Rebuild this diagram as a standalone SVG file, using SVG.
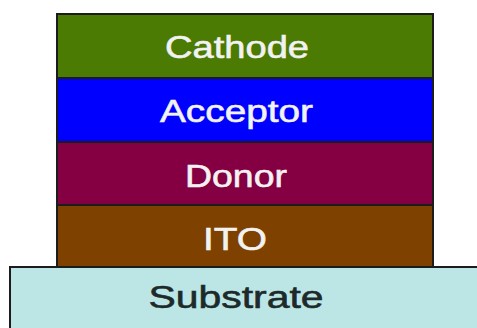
<svg xmlns="http://www.w3.org/2000/svg" width="477" height="328" viewBox="0 0 477 328">
<style>
.layer{stroke:#1c1c1c;stroke-width:2}
.lbl{font-family:"Liberation Sans",Arial,sans-serif;font-size:32px;fill:#f2f2f2;stroke:#f2f2f2;stroke-width:0.6;text-anchor:middle}
.dark{fill:#1c2a2a;stroke:#1c2a2a}
</style>
<rect width="477" height="328" fill="#ffffff"/>
<g id="substrate">
<rect class="layer" x="10" y="267" width="480" height="70" fill="#bce5e6"/>
<text class="lbl dark" x="236" y="308" textLength="175" lengthAdjust="spacingAndGlyphs">Substrate</text>
</g>
<g id="ito">
<rect class="layer" x="57" y="205" width="376" height="62" fill="#7f4100"/>
<text class="lbl" x="235" y="250" textLength="64" lengthAdjust="spacingAndGlyphs">ITO</text>
</g>
<g id="donor">
<rect class="layer" x="57" y="142" width="376" height="63" fill="#850042"/>
<text class="lbl" x="236" y="187" textLength="102" lengthAdjust="spacingAndGlyphs">Donor</text>
</g>
<g id="acceptor">
<rect class="layer" x="57" y="78" width="376" height="64" fill="#0000fe"/>
<text class="lbl" x="236.5" y="122" textLength="153" lengthAdjust="spacingAndGlyphs">Acceptor</text>
</g>
<g id="cathode">
<rect class="layer" x="57" y="14" width="376" height="64" fill="#4b7b03"/>
<text class="lbl" x="237" y="58" textLength="144" lengthAdjust="spacingAndGlyphs">Cathode</text>
</g>
<g id="connectors"></g>
</svg>
